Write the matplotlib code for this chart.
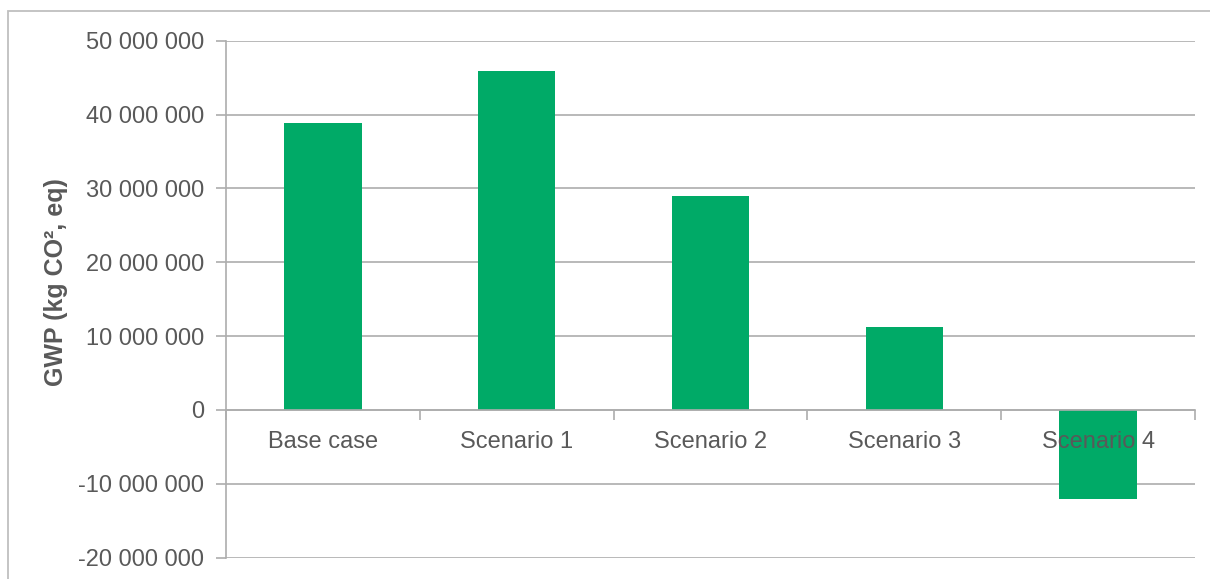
import matplotlib.pyplot as plt
from matplotlib.patches import Rectangle
from matplotlib.ticker import FuncFormatter, FixedLocator

plt.rcParams['font.family'] = ['Liberation Sans', 'DejaVu Sans']

categories = ['Base case', 'Scenario 1', 'Scenario 2', 'Scenario 3', 'Scenario 4']
gwp = [38850000, 45850000, 29000000, 11250000, -12000000]

bar_color = '#00AA67'
grid_color = '#ADADAD'
text_color = '#595959'

fig = plt.figure(figsize=(12.1, 5.79), dpi=100)
ax = fig.add_axes([226 / 1210, 1 - 557.7 / 579, (1195 - 226) / 1210, (557.7 - 40.7) / 579])

x = range(len(categories))
ax.bar(x, gwp, width=0.4, color=bar_color, zorder=1)

ax.set_xlim(-0.5, len(categories) - 0.5)
ax.set_ylim(-20000000, 50000000)
ax.set_yticks(range(-20000000, 50000001, 10000000))
ax.yaxis.set_major_formatter(FuncFormatter(lambda v, p: f'{int(v):,}'.replace(',', ' ')))

# grid behind the bars, category axis drawn above them
ax.set_axisbelow(True)
ax.xaxis.set_zorder(2.5)
ax.grid(axis='y', color=grid_color, linewidth=1.2)

ax.spines['top'].set_visible(False)
ax.spines['right'].set_visible(False)
ax.spines['left'].set_color(grid_color)
ax.spines['left'].set_linewidth(1.2)
ax.spines['bottom'].set_position(('data', 0))
ax.spines['bottom'].set_color(grid_color)
ax.spines['bottom'].set_linewidth(1.2)

ax.set_xticks(list(x))
ax.set_xticklabels(categories)
ax.xaxis.set_minor_locator(FixedLocator([i - 0.5 for i in range(len(categories) + 1)]))
ax.tick_params(axis='x', which='major', length=0, pad=15, labelsize=17, labelcolor=text_color)
ax.tick_params(axis='x', which='minor', length=7, width=1.2, color=grid_color)
ax.tick_params(axis='y', length=7, width=1.2, color=grid_color, pad=9,
               labelsize=17, labelcolor=text_color)

fig.text(56 / 1210, 1 - 282 / 579, 'GWP (kg CO², eq)', rotation=90, ha='center', va='center',
         fontsize=18, fontweight='bold', color=text_color)

# chart area border
fig.patches.append(Rectangle((8 / 1210, -0.1), 1.2, 1 - 11 / 579 + 0.1, transform=fig.transFigure,
                             fill=False, edgecolor='#BFBFBF', linewidth=1.3))

fig.savefig('out.png', dpi=100)
